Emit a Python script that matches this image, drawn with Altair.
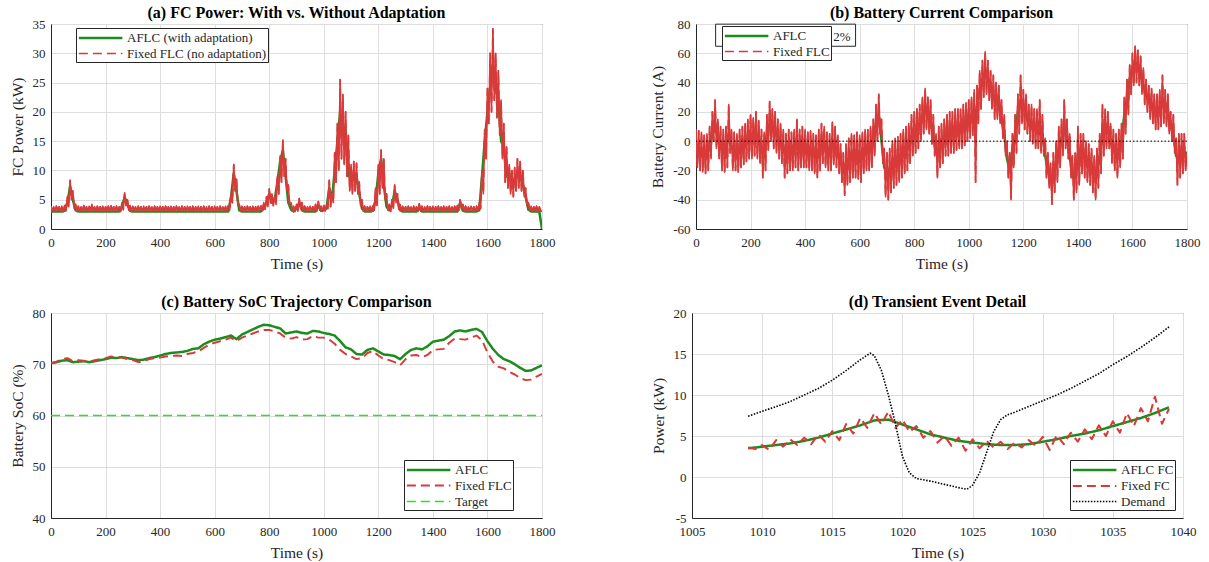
import altair as alt
import pandas as pd

FONT = "Liberation Serif"
TXT = "#262626"
GREEN = "#1c8c1c"
RED = "#d83a3a"
LGREEN = "#22e622"

# ---------------- (a) FC power ----------------
t_a_fixed = list(range(0, 1801, 5))
fc_fixed = [
    3.9, 3.0, 3.8, 3.1, 3.9, 3.0, 3.8, 3.1, 3.9, 3.0, 4.0, 3.1, 5.5, 3.8, 8.3, 5.0, 6.5, 3.5, 4.2, 3.0,
    3.9, 3.1, 3.8, 3.0, 4.0, 3.1, 3.8, 3.0, 3.9, 3.1, 4.2, 3.0, 3.8, 3.1, 3.9, 3.0, 3.8, 3.1, 3.9, 3.0,
    3.8, 3.1, 3.9, 3.0, 4.0, 3.1, 3.8, 3.0, 3.9, 3.1, 3.8, 3.0, 4.5, 3.3, 6.2, 4.0, 5.0, 3.2, 4.0, 3.0,
    3.9, 3.1, 3.8, 3.0, 3.9, 3.1, 3.8, 3.0, 3.9, 3.1, 3.8, 3.0, 3.9, 3.1, 3.8, 3.0, 3.9, 3.1, 3.8, 3.0,
    3.9, 3.1, 3.8, 3.0, 3.9, 3.1, 3.8, 3.0, 3.9, 3.1, 3.8, 3.0, 3.9, 3.1, 3.8, 3.0, 3.9, 3.1, 3.8, 3.0,
    3.9, 3.1, 3.8, 3.0, 3.9, 3.1, 3.8, 3.0, 3.9, 3.1, 3.8, 3.0, 3.9, 3.1, 3.8, 3.0, 3.9, 3.1, 3.8, 3.0,
    3.9, 3.1, 3.8, 3.0, 3.9, 3.1, 3.8, 3.0, 3.9, 3.1, 4.0, 3.2, 6.0, 4.5, 11.0, 6.5, 8.5, 4.0, 4.2, 3.0,
    3.9, 3.1, 3.8, 3.0, 3.9, 3.1, 3.8, 3.0, 3.9, 3.1, 3.8, 3.0, 3.9, 3.1, 4.0, 3.2, 4.5, 3.4, 5.5, 3.8,
    6.8, 4.5, 6.0, 4.0, 5.5, 4.2, 9.0, 6.0, 12.5, 8.0, 15.2, 9.0, 12.0, 6.5, 7.5, 4.0, 4.5, 3.1, 3.9, 3.0,
    4.2, 3.1, 5.2, 3.5, 4.5, 3.0, 3.9, 3.1, 3.8, 3.0, 3.9, 3.1, 3.8, 3.0, 4.2, 3.1, 4.7, 3.2, 3.9, 3.0,
    4.0, 3.1, 4.2, 3.5, 8.3, 3.8, 6.0, 4.5, 13.0, 8.0, 18.0, 10.0, 25.5, 12.0, 23.0, 11.0, 20.0, 9.0, 16.0, 6.5,
    11.0, 6.0, 11.5, 6.5, 11.2, 6.0, 8.0, 4.0, 5.0, 3.1, 3.9, 3.0, 3.8, 3.1, 3.9, 3.0, 4.0, 3.2, 7.0, 4.0,
    11.0, 6.0, 13.5, 7.0, 12.0, 5.0, 6.0, 3.2, 4.2, 3.0, 5.0, 3.5, 7.5, 4.5, 6.0, 3.4, 4.2, 3.0, 3.9, 3.1,
    3.8, 3.0, 3.9, 3.1, 3.8, 3.0, 3.9, 3.1, 3.8, 3.0, 4.3, 3.1, 3.9, 3.0, 3.8, 3.1, 3.9, 3.0, 3.8, 3.1,
    3.9, 3.0, 3.8, 3.1, 3.9, 3.0, 3.8, 3.1, 3.9, 3.0, 3.8, 3.1, 3.9, 3.0, 3.8, 3.1, 3.9, 3.0, 4.0, 3.2,
    5.0, 3.4, 4.2, 3.0, 3.9, 3.1, 3.8, 3.0, 3.9, 3.1, 3.8, 3.0, 3.9, 3.1, 4.5, 3.5, 10.0, 6.0, 17.0, 12.0,
    24.0, 18.0, 30.0, 20.0, 34.2, 22.0, 30.0, 19.0, 27.0, 16.0, 22.0, 12.0, 18.0, 8.0, 14.0, 7.0, 11.0, 6.0, 10.0, 5.5,
    10.5, 6.5, 12.0, 7.0, 11.5, 6.5, 10.0, 5.5, 7.0, 4.0, 4.5, 3.2, 3.9, 3.0, 3.8, 3.1, 3.9, 3.0, 3.8, 3.1,
    3.0,
]
t_a_aflc = list(range(0, 1801, 10))
fc_aflc = [
    3.0, 3.0, 3.0, 3.0, 3.0, 3.1, 4.5, 7.2, 5.0, 3.2,
    3.0, 3.0, 3.0, 3.0, 3.0, 3.0, 3.0, 3.0, 3.0, 3.0,
    3.0, 3.0, 3.0, 3.0, 3.0, 3.0, 3.8, 5.5, 4.2, 3.1,
    3.0, 3.0, 3.0, 3.0, 3.0, 3.0, 3.0, 3.0, 3.0, 3.0,
    3.0, 3.0, 3.0, 3.0, 3.0, 3.0, 3.0, 3.0, 3.0, 3.0,
    3.0, 3.0, 3.0, 3.0, 3.0, 3.0, 3.0, 3.0, 3.0, 3.0,
    3.0, 3.0, 3.0, 3.0, 3.0, 3.0, 5.5, 9.5, 6.5, 3.2,
    3.0, 3.0, 3.0, 3.0, 3.0, 3.0, 3.0, 3.0, 3.5, 4.5,
    6.0, 4.5, 5.0, 8.0, 11.5, 13.5, 9.0, 4.5, 3.3, 3.0,
    3.5, 4.5, 3.2, 3.0, 3.0, 3.0, 3.0, 3.0, 4.0, 3.1,
    3.2, 3.5, 7.0, 5.0, 10.0, 15.0, 20.0, 16.0, 17.0, 9.0,
    9.0, 8.5, 9.0, 6.0, 3.5, 3.0, 3.0, 3.0, 3.1, 5.0,
    9.5, 12.0, 7.5, 3.8, 3.2, 4.0, 6.5, 5.0, 3.2, 3.0,
    3.0, 3.0, 3.0, 3.0, 3.0, 3.5, 3.0, 3.0, 3.0, 3.0,
    3.0, 3.0, 3.0, 3.0, 3.0, 3.0, 3.0, 3.0, 3.0, 3.0,
    4.5, 3.1, 3.0, 3.0, 3.0, 3.0, 3.0, 3.2, 9.0, 15.0,
    20.0, 24.0, 28.0, 24.0, 22.0, 15.0, 14.0, 9.0, 9.5, 7.0,
    8.5, 9.5, 9.0, 7.5, 5.5, 3.3, 3.0, 3.0, 3.0, 3.0,
    0.0,
]

# ---------------- (b) battery current ----------------
t_b_fixed = list(range(0, 1801, 5))
ib_fixed = [
    8, -18, 7, -20, 6, -21, 4, -22, 5, -20, 10, -12, 20, 0, 28, -5, 15, -12, 10, -20,
    8, -21, 10, -18, 25, -8, 8, -20, 6, -20, 5, -21, 8, -18, 10, -16, 12, -14, 15, -12,
    18, -12, 16, -10, 20, -12, 14, -15, 8, -25, 6, -20, 18, -6, 27, 0, 22, -5, 20, -8,
    15, -12, 12, -15, 8, -25, 5, -22, 8, -20, 6, -20, 8, -18, 15, -20, 8, -18, 10, -18,
    8, -18, 6, -20, 7, -20, 5, -22, 4, -25, 8, -20, 12, -15, 10, -18, 6, -20, 5, -20,
    13, -16, 10, -18, 4, -22, -2, -28, -8, -37, -2, -30, 2, -28, 5, -25, 4, -25, 6, -26,
    4, -28, 6, -22, 8, -20, 8, -20, 10, -18, 15, -10, 25, 0, 32, 5, 15, -15, -5, -38,
    -8, -40, -5, -35, 0, -32, 2, -30, 3, -28, 5, -25, 8, -22, 10, -20, 12, -15, 18, -10,
    20, -8, 22, -5, 25, 0, 30, 5, 36, 8, 30, 5, 28, -2, 18, -10, 5, -25, 10, -18,
    12, -15, 15, -10, 18, -10, 20, -8, 20, -8, 22, -6, 22, -5, 22, -5, 25, -3, 26, 0,
    28, 2, 30, 4, 35, -28, 38, 12, 48, 22, 55, 30, 61, 32, 55, 28, 48, 22, 45, 15,
    40, 15, 38, 12, 28, 2, 18, -10, 0, -25, -8, -40, 5, -18, 18, -8, 32, 5, 45, 12,
    35, 8, 32, 5, 25, 0, 25, -2, 22, -5, 22, -5, 28, -8, 18, -10, 2, -25, -8, -32,
    -15, -43, -8, -35, 0, -28, 10, -18, 15, -10, 28, -5, 15, -12, 5, -25, -10, -40, -8, -35,
    10, -30, 5, -22, 5, -25, 0, -28, -2, -30, -5, -35, -10, -40, -5, -32, 5, -22, 25, -10,
    22, -5, 20, -5, 12, -15, 8, -20, 5, -25, 8, -18, 12, -12, 30, 5, 42, 18, 52, 32,
    60, 38, 65, 40, 62, 38, 58, 32, 50, 25, 42, 20, 38, 15, 36, 12, 32, 8, 32, 8,
    35, 10, 45, 12, 35, 10, 32, 5, 20, 0, 18, -8, 2, -30, 5, -25, 5, -22, 5, -20,
    -8,
]
t_b_aflc = list(range(0, 1801, 10))
ib_aflc = [
    -5, -6, -6, -8, -7, -6, 5, 10, 2, -3,
    -6, -5, 5, -5, -6, -6, -5, -4, -1, 0,
    3, 4, 5, 0, -5, -6, 5, 12, 8, 5,
    2, 0, -5, -8, -6, -7, -6, -4, -5, -5,
    -5, -6, -6, -7, -8, -6, -3, -4, -7, -6,
    -3, -3, -8, -14, -20, -15, -12, -10, -10, -10,
    -10, -8, -7, -6, -4, 3, 12, 18, 0, -18,
    -22, -20, -16, -14, -12, -10, -8, -6, -2, 2,
    6, 8, 12, 18, 22, 18, 12, 5, -8, -5,
    -2, 2, 4, 5, 6, 7, 8, 8, 10, 12,
    14, 16, 10, 25, 35, 42, 45, 42, 35, 30,
    28, 25, 15, 5, -12, -20, -5, 5, 20, 28,
    22, 18, 12, 10, 8, 8, 5, 5, -10, -20,
    -28, -22, -15, -5, 2, 8, 2, -10, -25, -22,
    -15, -8, -10, -12, -15, -20, -25, -18, -10, 5,
    10, 8, 0, -5, -8, -5, 0, 18, 30, 42,
    50, 52, 50, 45, 38, 32, 28, 24, 20, 20,
    22, 25, 22, 18, 10, 5, -10, -12, -10, -8,
    -8,
]
zero_level = [0]
# leftover legend box that shows behind the legend in (b)
note_box_t = [72, 585]
note_box_v = [64.8, 79.9]
note_text = "2%"
note_text_t = 535
note_text_v = 71.0

# ---------------- (c) SoC ----------------
t_c = list(range(0, 1801, 20))
soc_aflc = [
    70.2, 70.4, 70.7, 70.8, 70.4, 70.5, 70.6, 70.4, 70.6, 70.8,
    71.0, 71.3, 71.2, 71.4, 71.2, 71.0, 70.8, 70.9, 71.2, 71.4,
    71.7, 72.0, 72.2, 72.3, 72.4, 72.6, 73.0, 73.1, 73.9, 74.4,
    74.8, 75.0, 75.3, 75.6, 74.9, 75.8, 76.3, 76.8, 77.3, 77.7,
    77.6, 77.3, 77.0, 76.0, 76.2, 76.4, 76.1, 76.0, 76.5, 76.4,
    76.1, 75.9, 75.6, 74.5, 73.3, 72.9, 72.0, 71.9, 72.8, 73.1,
    72.5, 71.9, 71.8, 71.6, 71.0, 72.0, 72.8, 73.1, 72.9, 73.5,
    74.4, 74.6, 74.8, 75.5, 76.4, 76.6, 76.4, 76.7, 76.9, 76.3,
    74.5, 73.0, 71.8, 71.0, 70.6, 70.0, 69.3, 68.7, 68.8, 69.3,
    69.8,
]
soc_fixed = [
    70.2, 70.5, 71.0, 71.2, 70.6, 70.8, 70.7, 70.5, 70.8, 71.0,
    71.2, 71.5, 71.3, 71.3, 71.0, 70.8, 70.4, 70.6, 71.0, 71.2,
    71.3, 71.5, 71.6, 71.7, 71.6, 72.0, 72.2, 72.5, 73.2, 73.8,
    74.2, 74.5, 74.8, 75.2, 74.5, 75.2, 75.6, 76.0, 76.4, 76.7,
    76.7, 76.4, 76.0, 75.2, 75.0, 75.3, 74.8, 74.9, 75.5, 75.2,
    75.2, 74.8, 74.0, 72.8, 72.0, 71.5, 71.0, 71.2, 72.2, 72.6,
    71.7, 71.0, 70.8, 70.4, 69.8, 71.0, 71.7, 71.8, 71.4, 71.8,
    72.8, 72.9, 73.0, 74.2, 75.0, 74.9, 74.8, 75.2, 75.6, 74.7,
    72.3, 70.5, 69.5, 69.2, 68.5, 68.0, 67.3, 66.9, 67.0, 67.6,
    68.1,
]
t_target = [0, 1800]
soc_target = [60, 60]

# ---------------- (d) transient detail ----------------
t_d = list(range(1009, 1040))
pd_aflc = [
    3.5, 3.7, 3.9, 4.1, 4.4, 4.8, 5.3, 5.8, 6.3, 6.9,
    7.0, 6.4, 5.8, 5.2, 4.8, 4.4, 4.2, 4.0, 3.9, 3.9,
    4.0, 4.3, 4.6, 5.0, 5.3, 5.7, 6.2, 6.7, 7.2, 7.8,
    8.5,
]
t_d_fixed = [1009 + 0.5 * i for i in range(61)]
pd_fixed = [
    3.6, 3.4, 3.9, 3.3, 4.5, 3.7, 4.6, 3.9, 4.8, 4.0,
    5.2, 4.3, 5.6, 4.5, 6.5, 5.3, 7.2, 6.0, 7.8, 6.4,
    8.0, 6.0, 7.0, 5.5, 6.2, 4.8, 5.6, 4.2, 5.0, 3.8,
    4.8, 3.2, 4.6, 3.5, 4.4, 3.6, 4.3, 3.4, 4.2, 3.6,
    4.5, 3.8, 4.9, 3.3, 5.1, 4.0, 5.4, 4.3, 5.8, 4.6,
    6.3, 5.0, 6.8, 5.4, 7.8, 6.2, 8.4, 6.8, 9.8, 6.5,
    8.3,
]
t_demand = [1009, 1010, 1012, 1014, 1015, 1016, 1017, 1017.7, 1018, 1018.5,
            1019, 1019.5, 1020, 1020.5, 1021, 1022, 1023, 1024, 1024.6, 1025,
            1025.5, 1026, 1026.5, 1027, 1027.5, 1028, 1029, 1030, 1031, 1032,
            1033, 1034, 1035, 1036, 1037, 1038, 1039]
p_demand = [7.4, 8.0, 9.2, 10.8, 11.8, 13.0, 14.3, 15.1, 14.8, 13.0,
            10.0, 6.5, 2.5, 0.5, -0.2, -0.5, -0.9, -1.3, -1.5, -1.0,
            0.5, 3.0, 5.5, 7.0, 7.6, 7.9, 8.6, 9.3, 10.0, 10.8,
            11.7, 12.6, 13.7, 14.7, 15.8, 17.0, 18.3]


def long(parts):
    frames = []
    for name, ts, vs in parts:
        frames.append(pd.DataFrame({"t": ts, "v": vs, "s": name}))
    return pd.concat(frames, ignore_index=True)


LINE_SYMBOL = "M-0.95,0H4.85"


def legend(x, y):
    return alt.Legend(orient="none", legendX=x, legendY=y, title=None,
                      fillColor="white", strokeColor=TXT, padding=1,
                      cornerRadius=0, labelFont=FONT, labelFontSize=13,
                      labelColor=TXT, symbolType=LINE_SYMBOL, symbolSize=225,
                      rowPadding=0, labelOffset=32, labelLimit=400)


MINUS = "replace(datum.label, '\u2212', '-')"


def panel(df, names, colors, dashes, widths, xdom, xvals, ydom, yvals,
          ytitle, title, w, h, lx, ly, extra=None, solid_under=None):
    leg = legend(lx, ly)
    X = alt.X("t:Q", scale=alt.Scale(domain=xdom, nice=False, zero=False),
              axis=alt.Axis(values=xvals, title="Time (s)", format="d",
                            labelFlush=False, labelOverlap=False, labelPadding=7,
                            labelFont=FONT, titleFont=FONT))
    Y = alt.Y("v:Q", scale=alt.Scale(domain=ydom, nice=False, zero=False),
              axis=alt.Axis(values=yvals, title=ytitle, format="d", labelExpr=MINUS,
                            labelFlush=False, labelOverlap=False,
                            labelFont=FONT, titleFont=FONT))
    enc = dict(
        x=X, y=Y,
        color=alt.Color("s:N", scale=alt.Scale(domain=names, range=colors), legend=leg),
        strokeDash=alt.StrokeDash("s:N", scale=alt.Scale(domain=names, range=dashes), legend=leg),
        strokeWidth=alt.StrokeWidth("s:N", scale=alt.Scale(domain=names, range=widths), legend=leg),
    )
    layers = []
    for i, n in enumerate(names):
        if solid_under and n in solid_under:
            # same series drawn solid underneath: dense noise reads as a filled band
            layers.append(
                alt.Chart(df).transform_filter(alt.datum.s == n)
                .mark_line(clip=True, strokeJoin="round", color=colors[i],
                           strokeWidth=widths[i]).encode(x=X, y=Y)
            )
        layers.append(
            alt.Chart(df).transform_filter(alt.datum.s == n)
            .mark_line(clip=True, strokeJoin="round").encode(**enc)
        )
    if extra:
        layers += extra(X, Y)
    return alt.layer(*layers).properties(
        width=w, height=h,
        title=alt.TitleParams(title, font=FONT, fontSize=16, fontWeight="bold",
                              color="black", offset=-3, anchor="middle"))


W, H = 491, 205
DASH = [9, 5]

# (a)
names_a = ["AFLC (with adaptation)", "Fixed FLC (no adaptation)"]
df_a = long([(names_a[0], t_a_aflc, fc_aflc), (names_a[1], t_a_fixed, fc_fixed)])
pa = panel(df_a, names_a, [GREEN, RED], [[1, 0], DASH], [2.5, 1.6],
           [0, 1800], list(range(0, 1801, 200)), [0, 35], list(range(0, 36, 5)),
           "FC Power (kW)", "(a) FC Power: With vs. Without Adaptation",
           W, H, 25, 4, solid_under=[names_a[1]])

# (b)
names_b = ["AFLC", "Fixed FLC"]
df_b = long([(names_b[0], t_b_aflc, ib_aflc), (names_b[1], t_b_fixed, ib_fixed)])


def extra_b(X, Y):
    zero = alt.Chart(pd.DataFrame({"v": zero_level})).mark_rule(
        color="black", strokeDash=[1.5, 2], strokeWidth=1).encode(y=Y)
    box = alt.Chart(pd.DataFrame({"t": [note_box_t[0]], "t2": [note_box_t[1]],
                                  "v": [note_box_v[0]], "v2": [note_box_v[1]]})
                    ).mark_rect(fill="white", stroke=TXT, strokeWidth=1).encode(
        x=X, x2="t2:Q", y=Y, y2="v2:Q")
    txt = alt.Chart(pd.DataFrame({"t": [note_text_t], "v": [note_text_v], "label": [note_text]})
                    ).mark_text(font=FONT, fontSize=13, color=TXT).encode(x=X, y=Y, text="label:N")
    return [zero, box, txt]


pb = panel(df_b, names_b, [GREEN, RED], [[1, 0], DASH], [2.5, 1.6],
           [0, 1800], list(range(0, 1801, 200)), [-60, 80], list(range(-60, 81, 20)),
           "Battery Current (A)", "(b) Battery Current Comparison",
           W, H, 26, 2, extra_b, solid_under=[names_b[1]])

# (c)
names_c = ["AFLC", "Fixed FLC", "Target"]
df_c = long([(names_c[0], t_c, soc_aflc), (names_c[1], t_c, soc_fixed),
             (names_c[2], t_target, soc_target)])
pc = panel(df_c, names_c, [GREEN, RED, LGREEN], [[1, 0], DASH, DASH], [2.5, 1.4, 1.6],
           [0, 1800], list(range(0, 1801, 200)), [40, 80], list(range(40, 81, 10)),
           "Battery SoC (%)", "(c) Battery SoC Trajectory Comparison",
           W, H, 353, 147)

# (d)
names_d = ["AFLC FC", "Fixed FC", "Demand"]
df_d = long([(names_d[0], t_d, pd_aflc), (names_d[1], t_d_fixed, pd_fixed),
             (names_d[2], t_demand, p_demand)])
pdd = panel(df_d, names_d, [GREEN, RED, "black"], [[1, 0], DASH, [1.5, 1.5]], [2.5, 1.6, 1.8],
            [1005, 1040], list(range(1005, 1041, 5)), [-5, 20], list(range(-5, 21, 5)),
            "Power (kW)", "(d) Transient Event Detail",
            W, H, 378, 147)

res = dict(color="independent", strokeDash="independent", strokeWidth="independent",
           x="independent", y="independent")
row1 = alt.hconcat(pa, pb, spacing=94).resolve_scale(**res)
row2 = alt.hconcat(pc, pdd, spacing=94).resolve_scale(**res)
chart = alt.vconcat(row1, row2, spacing=21).resolve_scale(**res).properties(
    padding={"left": 9, "top": 4, "right": 5, "bottom": 2},
    background="white",
).configure(font=FONT).configure_axis(
    labelFont=FONT, titleFont=FONT, labelFontSize=13, titleFontSize=15.5,
    labelColor=TXT, titleColor=TXT, titleFontWeight="normal",
    gridColor="#dedede", domainColor=TXT, ticks=False,
    labelPadding=6, titlePadding=7,
).configure_view(stroke=TXT, strokeWidth=1).configure_legend(
    labelFont=FONT
)

chart.save("out.html", embed_options={"renderer": "svg", "actions": False})
